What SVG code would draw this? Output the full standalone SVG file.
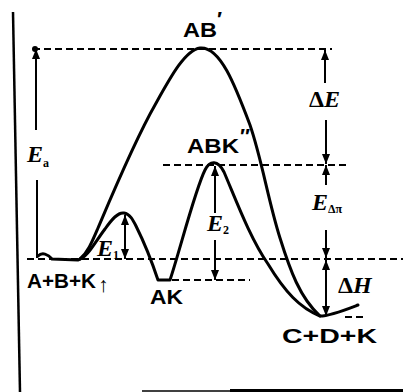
<svg xmlns="http://www.w3.org/2000/svg" width="403" height="392" viewBox="0 0 403 392">
<defs>
<marker id="ah" viewBox="0 0 10 8" refX="10" refY="4" markerWidth="10" markerHeight="8" markerUnits="userSpaceOnUse" orient="auto-start-reverse">
<path d="M0,0 L10,4 L0,8 z" fill="#000"/>
</marker>
<style>
.dash{stroke:#000;stroke-width:2;stroke-dasharray:7 4;fill:none}
.arr{stroke:#000;stroke-width:2;fill:none}
.curve{stroke:#000;stroke-width:3;fill:none;stroke-linecap:round;stroke-linejoin:round}
.sp{font-family:"Liberation Sans",Arial,sans-serif;font-size:21px;font-weight:bold;fill:#000}
.en{font-family:"Liberation Serif","Times New Roman",serif;font-style:italic;font-weight:bold;font-size:24px;fill:#000}
.up{font-style:normal}
.sub{font-size:12px;font-style:normal}
.frame{stroke:#000;fill:none}
</style>
</defs>
<rect width="403" height="392" fill="#fff"/>
<g id="frame">
<line class="frame" x1="13" y1="12" x2="20" y2="392" stroke-width="2.5"/>
<line class="frame" x1="142" y1="391" x2="230" y2="391" stroke-width="1.5"/>
<line class="frame" x1="230" y1="390.5" x2="403" y2="390.5" stroke-width="3"/>
</g>
<g id="levels">
<line class="dash" x1="33" y1="49" x2="332" y2="49"/>
<line class="dash" x1="163" y1="165" x2="348" y2="165"/>
<line class="dash" x1="27" y1="259" x2="403" y2="259"/>
<line class="dash" x1="172" y1="280" x2="250" y2="280"/>
<line class="dash" x1="345" y1="317" x2="363" y2="317"/>
<circle cx="35" cy="49" r="3"/>
</g>
<g id="curves">
<path id="uncatalyzed" class="curve" stroke-width="3.5" d="M80,259 C88,252 92,242 98,228 C112,195 135,140 155,105 C170,78 185,50 200,48 C220,46 235,85 250,125 C262,160 268,200 280,238 C290,270 300,298 320,316"/>
<path id="catalyzed" class="curve" d="M38,256 C42,252 48,254 52,259 L78,260 C88,257 95,242 105,229 C112,219 118,212 124,213 C130,214 133,220 136,226 C144,242 152,262 158,280 L170,280 C180,250 195,190 205,170 C210,160 218,160 224,172 C236,200 250,238 268,264 C285,292 300,308 320,316 C330,316 345,310 358,305"/>
</g>
<g id="connectors">
<line class="arr" x1="36" y1="49" x2="36" y2="130" marker-start="url(#ah)"/>
<line class="arr" x1="37" y1="180" x2="37" y2="258"/>
<line class="arr" x1="325" y1="50" x2="325" y2="83" marker-start="url(#ah)"/>
<line class="arr" x1="326" y1="120" x2="326" y2="164" marker-end="url(#ah)"/>
<line class="arr" x1="326" y1="165" x2="326" y2="185" marker-start="url(#ah)"/>
<line class="arr" x1="326" y1="230" x2="326" y2="258" marker-end="url(#ah)"/>
<line class="arr" x1="326" y1="260" x2="326" y2="316" marker-start="url(#ah)" marker-end="url(#ah)"/>
<line class="arr" x1="125" y1="215" x2="125" y2="259" marker-start="url(#ah)" marker-end="url(#ah)"/>
<line class="arr" x1="215" y1="166" x2="215" y2="213" marker-start="url(#ah)"/>
<line class="arr" x1="215" y1="240" x2="215" y2="280" marker-end="url(#ah)"/>
</g>
<g id="node-AB">
<text class="sp" x="183" y="37" font-size="25" textLength="34" lengthAdjust="spacingAndGlyphs">AB</text>
<text class="sp" x="217" y="26" font-size="12">′</text>
</g>
<g id="node-ABK">
<text class="sp" x="187" y="153" font-size="24" textLength="52" lengthAdjust="spacingAndGlyphs">ABK</text>
<text class="sp" x="240" y="143" font-size="12">″</text>
</g>
<g id="node-ABK-start">
<text class="sp" x="27" y="288" textLength="69" lengthAdjust="spacingAndGlyphs">A+B+K</text>
<text class="sp" x="98" y="292" font-size="11">↑</text>
</g>
<g id="node-AK">
<text class="sp" x="150" y="304" textLength="33" lengthAdjust="spacingAndGlyphs">AK</text>
</g>
<g id="node-CDK">
<text class="sp" x="282" y="343" font-size="22" textLength="95" lengthAdjust="spacingAndGlyphs">C+D+K</text>
</g>
<g id="labels">
<text class="en" x="27" y="162">E<tspan class="sub" dy="5">a</tspan></text>
<text class="en" x="309" y="107"><tspan class="up">Δ</tspan>E</text>
<text class="en" x="312" y="210">E<tspan class="sub" font-size="9" dy="3">Δπ</tspan></text>
<text class="en" x="338" y="293" font-size="22"><tspan class="up">Δ</tspan>H</text>
<text class="en" x="97" y="256" font-size="20">E<tspan class="sub" font-size="11" dy="3">1</tspan></text>
<text class="en" x="207" y="231" font-size="22">E<tspan class="sub" dy="3">2</tspan></text>
</g>
</svg>
